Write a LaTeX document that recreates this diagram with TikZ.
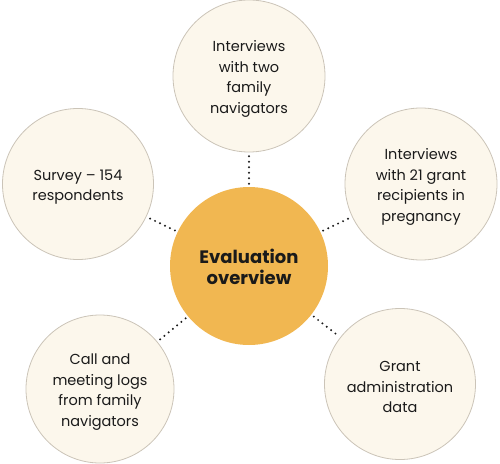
\documentclass[tikz,border=0pt]{standalone}
\usepackage{fontspec}
\setmainfont{Poppins}
\definecolor{cream}{HTML}{FCF7EC}
\definecolor{rim}{HTML}{CBC4B8}
\definecolor{gold}{HTML}{F1B751}
\definecolor{ink}{HTML}{1A1A1A}
\newcommand{\topstrut}{\rule{0pt}{17pt}}
\begin{document}
\begin{tikzpicture}[x=1pt,y=-1pt,
  outer/.style={circle,draw=rim,line width=0.8pt,fill=cream,minimum size=#1,inner sep=0pt,
    align=center,font=\fontsize{14.5}{20.5}\selectfont,text=ink},
  hub/.style={circle,fill=gold,minimum size=158pt,inner sep=0pt,align=center,
    font=\fontsize{18}{21}\selectfont\bfseries,text=ink},
  link/.style={ink,line width=2.2pt,line cap=round,dash pattern=on 0pt off 5.5pt,shorten <=3pt,shorten >=3pt}]
\useasboundingbox (0,0) rectangle (500,463);
\node[hub] (c) at (249,266) {\rule{0pt}{16pt}Evaluation\\overview};
\node[outer=152pt] (t) at (249,76) {\topstrut Interviews\\with two\\family\\navigators};
\node[outer=151pt] (lu) at (78,184) {\topstrut Survey – 154\\respondents};
\node[outer=152pt] (ru) at (421,184) {\topstrut Interviews\\with 21 grant\\recipients in\\pregnancy};
\node[outer=148pt] (ll) at (100,389) {\topstrut Call and\\meeting logs\\from family\\navigators};
\node[outer=151pt] (rl) at (400,384) {\topstrut Grant\\administration\\data};
\draw[link] (c) -- (t);
\draw[link] (c) -- (lu);
\draw[link] (c) -- (ru);
\draw[link] (c) -- (ll);
\draw[link] (c) -- (rl);
\end{tikzpicture}
\end{document}
